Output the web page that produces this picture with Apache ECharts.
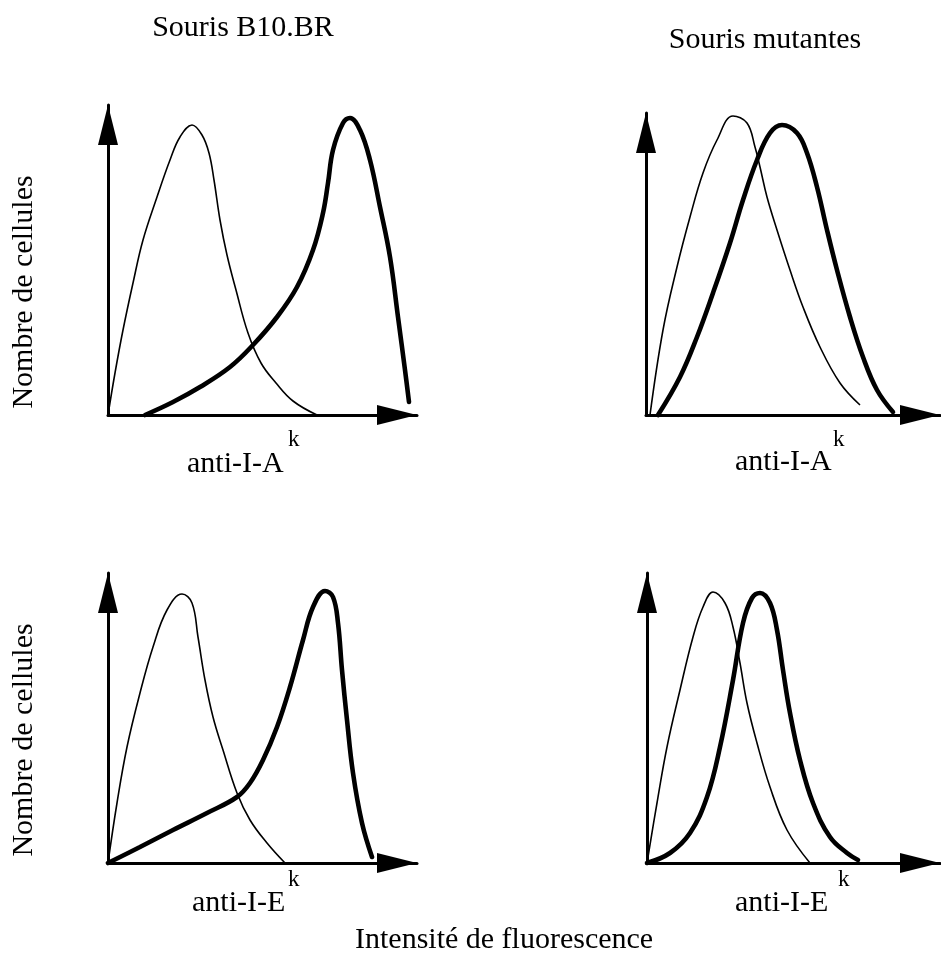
<!DOCTYPE html>
<html><head><meta charset="utf-8">
<script src="https://cdn.jsdelivr.net/npm/echarts@6/dist/echarts.min.js"></script>
<style>html,body{margin:0;padding:0;background:#fff}#c{width:941px;height:953px}</style>
</head><body><div id="c"></div>
<script>
// ---- texts ----
const columnTitles = ['Souris B10.BR', 'Souris mutantes'];
const markerNames = ['anti-I-A', 'anti-I-E'];
const markerSup = 'k';
const yTitle = 'Nombre de cellules';
const xTitle = 'Intensité de fluorescence';

// ---- curves: [fluorescence intensity, number of cells] (arbitrary units) ----
const b10IaThin  = [[0,0],[7,42],[15,85],[25,132],[35,175],[49,218],[62,255],[72,278],[84,290],[94,280],[101,262],[106,235],[112,195],[119,160],[128,125],[140,82],[153,52],[168,32],[185,14],[209,0]];
const b10IaThick = [[37,0],[65,13],[92,28],[122,48],[145,70],[169,98],[189,128],[205,165],[215,202],[220,232],[225,265],[235,292],[242,297],[252,285],[262,255],[272,208],[282,158],[290,98],[297,45],[301,13]];
const mutIaThin  = [[4,0],[17,85],[31,148],[44,198],[57,242],[71,275],[87,299],[101,292],[109,268],[114,248],[121,218],[131,185],[144,145],[157,108],[174,68],[194,32],[214,10]];
const mutIaThick = [[12,0],[34,38],[51,78],[67,122],[84,172],[97,215],[111,255],[124,282],[136,290],[151,282],[161,262],[171,228],[181,185],[191,145],[204,98],[217,58],[231,25],[247,3]];
const b10IeThin  = [[0,0],[9,60],[19,116],[32,170],[45,216],[59,253],[74,269],[84,260],[90,226],[97,183],[105,146],[115,113],[129,70],[142,43],[159,20],[177,0]];
const b10IeThick = [[0,0],[32,16],[65,33],[99,50],[129,66],[142,80],[155,103],[169,136],[182,176],[195,223],[205,256],[217,272],[225,266],[230,240],[234,193],[239,143],[245,90],[254,40],[264,6]];
const mutIeThin  = [[0,0],[10,60],[20,116],[33,173],[46,226],[56,256],[66,271],[78,260],[86,236],[93,200],[100,160],[110,120],[123,76],[140,33],[163,0]];
const mutIeThick = [[0,0],[23,10],[43,30],[60,66],[73,116],[86,183],[96,240],[105,265],[113,270],[123,260],[130,233],[136,193],[143,150],[153,103],[166,60],[183,26],[200,10],[211,3]];

const panels = [
  {box:{left:108, top:105, width:309, height:310}, thin:b10IaThin, thick:b10IaThick},
  {box:{left:646, top:113, width:294, height:302}, thin:mutIaThin, thick:mutIaThick},
  {box:{left:108, top:573, width:309, height:290}, thin:b10IeThin, thick:b10IeThick},
  {box:{left:647, top:573, width:293, height:290}, thin:mutIeThin, thick:mutIeThick}
];

const FONT = '"Liberation Serif", "Times New Roman", serif';
const grid = [], xAxis = [], yAxis = [], series = [];
const axisLine = {
  show: true, onZero: false,
  symbol: ['none', 'triangle'], symbolSize: [20, 40], symbolOffset: [0, -20],
  lineStyle: {color: '#000', width: 3}
};
panels.forEach((p, i) => {
  grid.push(Object.assign({containLabel: false}, p.box));
  xAxis.push({type: 'value', gridIndex: i, min: 0, max: p.box.width,
    axisLine: axisLine, axisTick: {show: false}, axisLabel: {show: false}, splitLine: {show: false}});
  yAxis.push({type: 'value', gridIndex: i, min: 0, max: p.box.height,
    axisLine: axisLine, axisTick: {show: false}, axisLabel: {show: false}, splitLine: {show: false}});
  series.push({type: 'line', xAxisIndex: i, yAxisIndex: i, data: p.thin, smooth: 0.4,
    showSymbol: false, silent: true, clip: false, lineStyle: {color: '#000', width: 1.6}});
  series.push({type: 'line', xAxisIndex: i, yAxisIndex: i, data: p.thick, smooth: 0.4,
    showSymbol: false, silent: true, clip: false, lineStyle: {color: '#000', width: 4.6, cap: 'round'}});
});

function txt(text, x, y, size, opts) {
  return Object.assign({type: 'text', x: x, y: y, silent: true,
    style: Object.assign({text: text, fill: '#000', font: size + 'px ' + FONT,
      textAlign: 'left', textVerticalAlign: 'middle'}, (opts && opts.style) || {})},
    opts && opts.rotation != null ? {rotation: opts.rotation} : {});
}
const graphic = [
  txt(columnTitles[0], 243, 28, 30, {style: {textAlign: 'center'}}),
  txt(columnTitles[1], 765, 40, 30, {style: {textAlign: 'center'}}),
  txt(yTitle, 24, 292, 30, {rotation: Math.PI / 2, style: {textAlign: 'center'}}),
  txt(yTitle, 24, 740, 30, {rotation: Math.PI / 2, style: {textAlign: 'center'}}),
  txt(markerNames[0], 187, 464, 30), txt(markerSup, 288, 440, 23),
  txt(markerNames[0], 735, 462, 30), txt(markerSup, 833, 440, 23),
  txt(markerNames[1], 192, 903, 30), txt(markerSup, 288, 880, 23),
  txt(markerNames[1], 735, 903, 30), txt(markerSup, 838, 880, 23),
  txt(xTitle, 355, 940, 30)
];

const chart = echarts.init(document.getElementById('c'), null, {renderer: 'canvas'});
chart.setOption({backgroundColor: '#fff', animation: false, grid, xAxis, yAxis, series, graphic});
</script></body></html>
